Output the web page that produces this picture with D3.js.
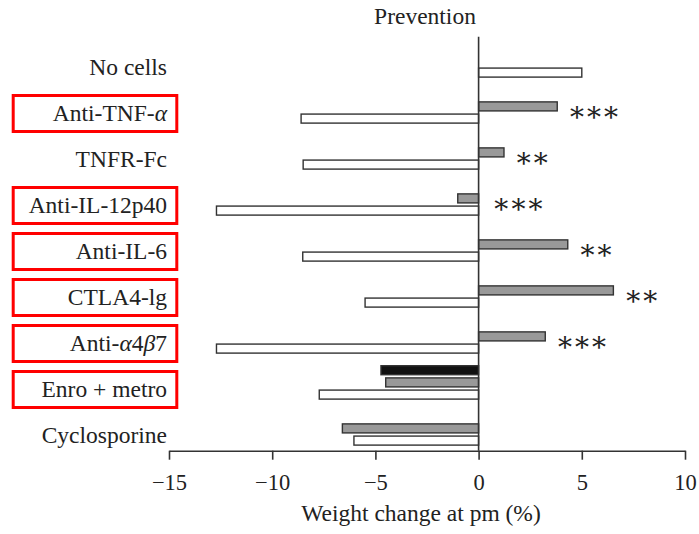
<!DOCTYPE html>
<html>
<head>
<meta charset="utf-8">
<script src="https://cdn.jsdelivr.net/npm/d3@7"></script>
<style>
  body { margin: 0; background: #fff; }
  svg text { font-family: "Liberation Serif", "DejaVu Serif", serif; fill: #222; }
</style>
</head>
<body>
<svg id="chart" width="699" height="534"></svg>
<script>
// values (weight change at pm, %)
var categories = ["No cells", "Anti-TNF-α", "TNFR-Fc", "Anti-IL-12p40", "Anti-IL-6",
    "CTLA4-lg", "Anti-α4β7", "Enro + metro", "Cyclosporine"];
var seriesNames = ["black", "gray", "white"];
var blackValues = [null, null, null, null, null, null, null, -4.73, null];
var grayValues  = [null, 3.81, 1.23, -1.01, 4.32, 6.53, 3.23, -4.5, -6.6];
var whiteValues = [5.0, -8.6, -8.5, -12.7, -8.52, -5.5, -12.7, -7.72, -6.04];
var starLabels  = ["", "***", "**", "***", "**", "**", "***", "", ""];
var boxed = ["Anti-TNF-α", "Anti-IL-12p40", "Anti-IL-6", "CTLA4-lg", "Anti-α4β7", "Enro + metro"];
var xTicks = [-15, -10, -5, 0, 5, 10];
var titleText = "Prevention";
var xTitle = "Weight change at pm (%)";

var fills = {black: "#111", gray: "#999", white: "#fff"};
var seriesValues = {black: blackValues, gray: grayValues, white: whiteValues};

var svg = d3.select("#chart");
var fontSize = 23.5;
var axisY = 450.7;

var x = d3.scaleLinear().domain([-15, 10]).range([169, 685]);
var y = d3.scaleBand().domain(categories).range([43.7, 457.7]);
var ySub = d3.scaleBand().domain(seriesNames).range([0, 33.4]).paddingInner(0.26);

// bars
seriesNames.forEach(function (s) {
    var rows = categories.map(function (c, i) {
        return {cat: c, v: seriesValues[s][i]};
    }).filter(function (d) { return d.v != null; });

    svg.append("g").selectAll("rect")
        .data(rows).enter().append("rect")
        .attr("x", function (d) { return x(Math.min(0, d.v)); })
        .attr("width", function (d) { return Math.abs(x(d.v) - x(0)); })
        .attr("y", function (d) { return y(d.cat) + ySub(s); })
        .attr("height", ySub.bandwidth())
        .attr("fill", fills[s])
        .attr("stroke", "#333")
        .attr("stroke-width", 1.4);
});

// zero line
svg.append("line")
    .attr("x1", x(0)).attr("x2", x(0))
    .attr("y1", 36.7).attr("y2", axisY)
    .attr("stroke", "#333").attr("stroke-width", 1.6);

// x axis
var fmt = d3.format("");
var xAxis = svg.append("g")
    .attr("transform", "translate(0," + axisY + ")")
    .call(d3.axisBottom(x).tickValues(xTicks).tickSize(9).tickSizeOuter(0).tickPadding(14)
        .tickFormat(function (d) { return fmt(d); }));
xAxis.selectAll("path, line").attr("stroke", "#333").attr("stroke-width", 1.6);
xAxis.selectAll("text")
    .style("font-family", "'Liberation Serif', serif")
    .style("font-size", "22.5px")
    .attr("fill", "#222");

// significance stars
svg.append("g").selectAll("text")
    .data(categories.map(function (c, i) { return {cat: c, v: grayValues[i], s: starLabels[i]}; })
        .filter(function (d) { return d.s; }))
    .enter().append("text")
    .attr("x", function (d) { return d.v > 0 ? x(d.v) + 10 : x(0) + 13; })
    .attr("y", function (d) { return y(d.cat) + ySub("gray") + ySub.bandwidth() + 10; })
    .style("font-family", "'DejaVu Serif', serif")
    .style("font-size", "28px")
    .style("letter-spacing", "-2px")
    .attr("fill", "#3a3a3a")
    .text(function (d) { return d.s.replace(/\*/g, "\u2217"); });

// category labels, greek letters in italics
var labels = svg.append("g").selectAll("text")
    .data(categories).enter().append("text")
    .attr("x", 167)
    .attr("y", function (d) { return y(d) + ySub("white") + ySub.bandwidth() - 2.5; })
    .attr("text-anchor", "end")
    .style("font-size", fontSize + "px");
labels.each(function (d) {
    var t = d3.select(this);
    d.split(/([αβ])/).forEach(function (part) {
        if (!part) return;
        var ts = t.append("tspan").text(part);
        if (/[αβ]/.test(part)) ts.style("font-style", "italic");
    });
});

// red highlight boxes
svg.append("g").selectAll("rect")
    .data(boxed).enter().append("rect")
    .attr("x", 13.2)
    .attr("width", 163.6)
    .attr("y", function (d) { return y(d) + 5.8; })
    .attr("height", 36)
    .attr("fill", "none")
    .attr("stroke", "#f00")
    .attr("stroke-width", 3);

// titles
svg.append("text")
    .attr("x", 425).attr("y", 24)
    .attr("text-anchor", "middle")
    .style("font-size", fontSize + "px")
    .text(titleText);

svg.append("text")
    .attr("x", 421).attr("y", 521)
    .attr("text-anchor", "middle")
    .style("font-size", fontSize + "px")
    .text(xTitle);
</script>
</body>
</html>
